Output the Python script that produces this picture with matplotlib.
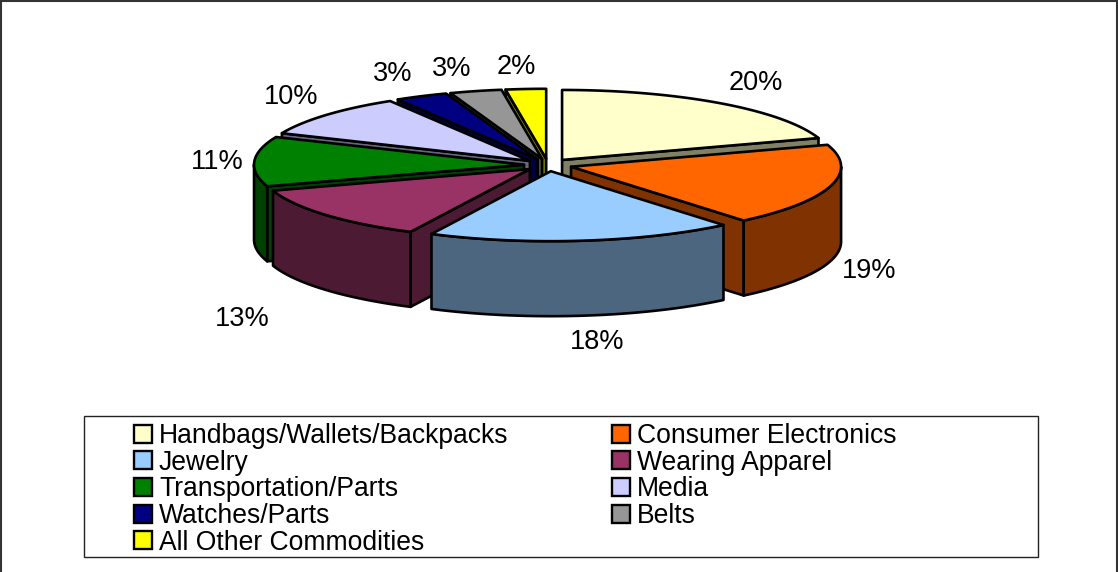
import numpy as np
import matplotlib
matplotlib.use("Agg")
import matplotlib.pyplot as plt
from matplotlib.patches import Polygon, Patch, Rectangle

plt.rcParams["font.family"] = ["Liberation Sans", "DejaVu Sans"]

# Data (slice sizes estimated from the drawn angles)
categories = ["Handbags/Wallets/Backpacks", "Consumer Electronics", "Jewelry", "Wearing Apparel",
              "Transportation/Parts", "Media", "Watches/Parts", "Belts", "All Other Commodities"]
values = [19.9, 19.0, 18.3, 12.7, 11.45, 9.85, 3.15, 3.1, 2.4]
colors = ["#FFFFCC", "#FF6600", "#99CCFF", "#993366", "#008000", "#CCCCFF", "#000080", "#969696", "#FFFF00"]

# Pie geometry, in pixels
cx, cy = 548, 165
rx, ry = 270, 70
depth = 75
explode = 24
lw = 1.9

# Percent label centres relative to pie centre
label_offsets = [(208, -82), (321, 106), (49, 177), (-306, 154), (-331, -3),
                 (-257, -68), (-155, -91), (-96, -96), (-32, -98)]

fig = plt.figure(figsize=(11.18, 5.72), dpi=100)
ax = fig.add_axes([0, 0, 1, 1])
ax.set_xlim(0, 1118)
ax.set_ylim(572, 0)
ax.axis("off")

# Chart border
ax.add_patch(Rectangle((1, 1), 1116, 600, fc="white", ec="#333333", lw=1.5, zorder=0))


def ring(t, ox, oy, dz=0):
    return np.column_stack([ox + rx * np.sin(t), oy - ry * np.cos(t) + dz])


def draw_face(points, color, z):
    ax.add_patch(Polygon(points, closed=True, fc=color, ec="black", lw=lw, joinstyle="round", zorder=z))


def darker(color):
    return tuple(c * 0.5 for c in matplotlib.colors.to_rgb(color))


edges = np.radians(np.concatenate([[0], np.cumsum(values)]) * 360 / sum(values))
mids = (edges[:-1] + edges[1:]) / 2

# Back slices first
order = np.argsort(-np.cos(mids))
for z, i in enumerate(order):
    z = 2 + z
    t0, t1 = edges[i], edges[i + 1]
    ox = cx + explode * np.sin(mids[i])
    oy = cy - explode * ry / rx * np.cos(mids[i])
    apex = np.array([[ox, oy]])
    side = darker(colors[i])

    # Flat cut faces, only where they look toward the viewer
    for t, normal in ((t0, t0 - np.pi / 2), (t1, t1 + np.pi / 2)):
        if np.cos(normal) < 0:
            top = np.vstack([apex, ring(np.array([t]), ox, oy)])
            bottom = top[::-1] + [0, depth]
            draw_face(np.vstack([top, bottom]), side, z)

    # Outer rim, front half of the ellipse only
    lo, hi = max(t0, np.pi / 2), min(t1, 3 * np.pi / 2)
    if hi > lo:
        t = np.linspace(lo, hi, 60)
        draw_face(np.vstack([ring(t, ox, oy), ring(t[::-1], ox, oy, depth)]), side, z)

    # Top surface
    t = np.linspace(t0, t1, 80)
    draw_face(np.vstack([apex, ring(t, ox, oy)]), colors[i], z)

for v, (dx, dy) in zip(values, label_offsets):
    ax.text(cx + dx, cy + dy, f"{v:.0f}%", fontsize=19.5, ha="center", va="center", zorder=30)

# Legend box and entries
ax.add_patch(Rectangle((83.5, 416), 954, 141, fc="white", ec="#222222", lw=1, zorder=20))
handles = [Patch(fc=c, ec="black", lw=1.7) for c in colors]
# legend fills column by column, the original reads row by row
col_order = [0, 2, 4, 6, 8, 1, 3, 5, 7]
leg = ax.legend([handles[i] for i in col_order], [categories[i] for i in col_order],
                ncol=2, frameon=False, fontsize=19.1, loc="upper left",
                bbox_to_anchor=(134, 423), bbox_transform=ax.transData,
                borderpad=0, borderaxespad=0, labelspacing=0.025,
                handlelength=0.68, handleheight=0.68, handletextpad=0.26, columnspacing=3.91)
leg.set_zorder(21)

fig.savefig("out.png", dpi=100)
